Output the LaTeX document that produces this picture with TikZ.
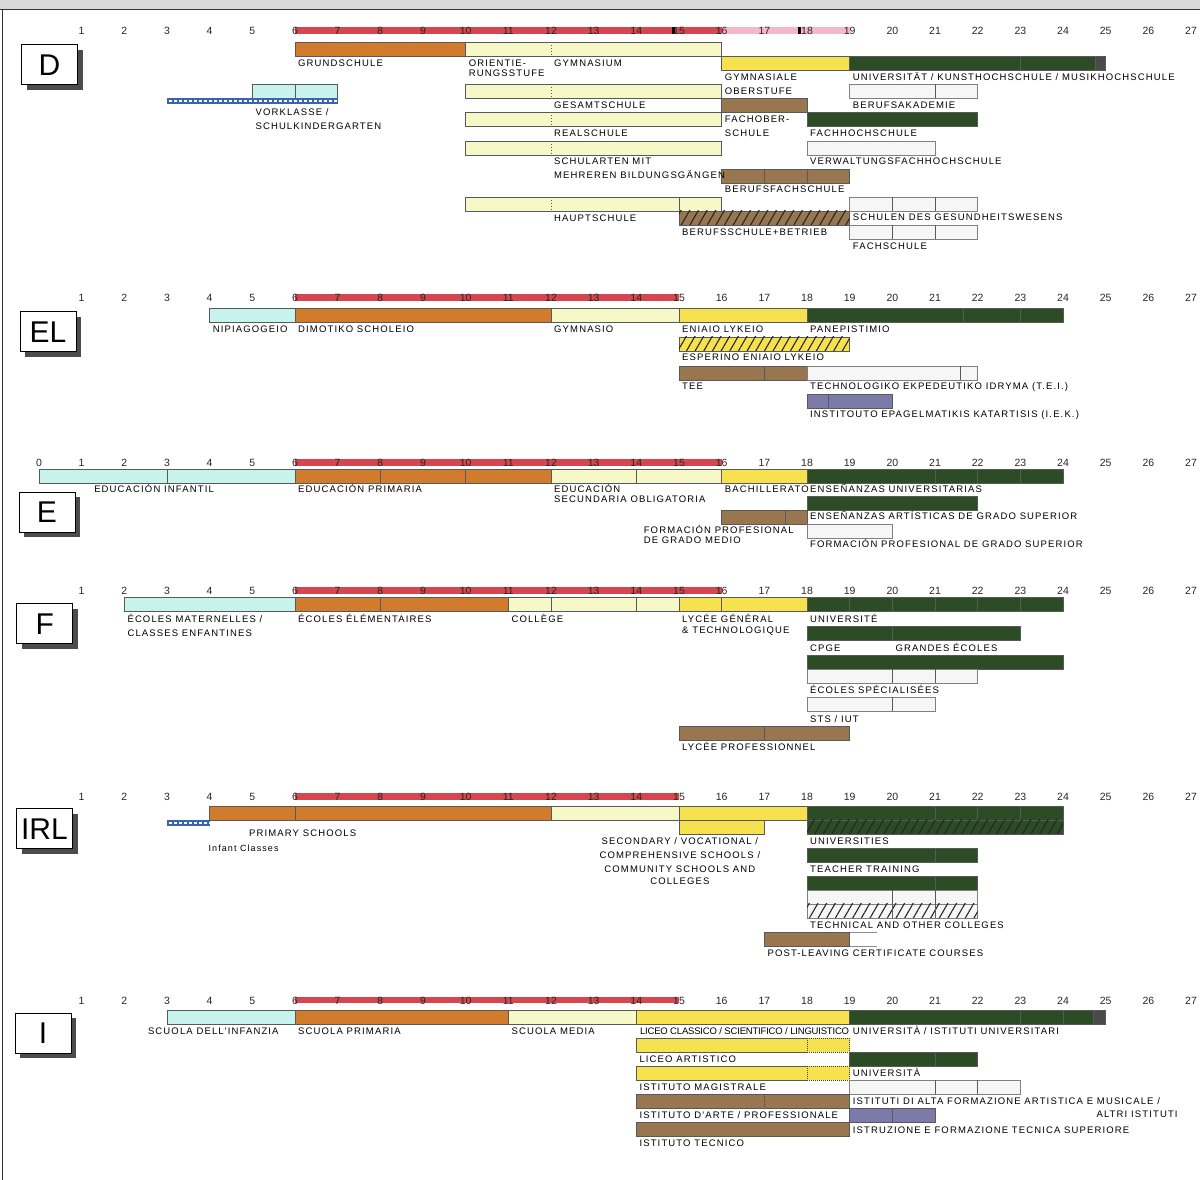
\documentclass[tikz,border=0pt]{standalone}
\usepackage{fontspec}
\setmainfont{Liberation Sans}
\newfontfamily\lblfont{Liberation Sans}[LetterSpace=12]
\newfontfamily\narrowfont{Liberation Sans}[LetterSpace=-2]
\usepackage{tikz}
\usetikzlibrary{patterns.meta,shadows}

\definecolor{redband}{RGB}{214,70,78}
\definecolor{pinkband}{RGB}{246,184,200}
\definecolor{orangeb}{RGB}{208,124,44}
\definecolor{paleb}{RGB}{246,248,200}
\definecolor{yellowb}{RGB}{246,226,78}
\definecolor{greenb}{RGB}{44,76,38}
\definecolor{brownb}{RGB}{152,118,80}
\definecolor{cyanb}{RGB}{200,242,236}
\definecolor{purpleb}{RGB}{124,122,168}
\definecolor{whiteb}{RGB}{246,246,246}
\definecolor{blueb}{RGB}{58,100,176}
\definecolor{endgray}{RGB}{74,74,74}

\begin{document}
\begin{tikzpicture}[x=42.667pt, y=-1pt]
        \tikzset{bar/.style={draw=black!65, line width=0.5pt}}
        \tikzset{orangebar/.style={bar, fill=orangeb}, palebar/.style={bar, fill=paleb},
          yellowbar/.style={bar, fill=yellowb}, greenbar/.style={bar, fill=greenb},
          brownbar/.style={bar, fill=brownb}, cyanbar/.style={bar, fill=cyanb},
          purplebar/.style={bar, fill=purpleb}, whitebar/.style={bar, draw=black!50, fill=whiteb},
          graybar/.style={bar, fill=endgray}}
        \tikzset{divline/.style={draw=black!65, line width=0.5pt},
          dashdiv/.style={divline, dash pattern=on 1.5pt off 1.5pt},
          dotbar/.style={draw=black!75, line width=0.7pt, dash pattern=on 1pt off 1pt},
          hatchfill/.style={pattern={Lines[angle=60, distance=7.5pt, line width=1.1pt]}, pattern color=black!85}}
        \tikzset{lbl/.style={anchor=base west, inner sep=0pt, xshift=3pt, font=\lblfont\fontsize{9.5}{10}\selectfont},
          lblc/.style={lbl, anchor=base, xshift=0pt},
          lblr/.style={lbl, anchor=base east, xshift=0pt},
          num/.style={inner sep=0pt, font=\fontsize{10.5}{11}\selectfont, text=black!85},
          cbox/.style={draw, line width=1pt, fill=white, minimum width=56pt, minimum height=40pt,
            inner sep=0pt, font=\fontsize{30}{30}\selectfont,
            drop shadow={shadow xshift=5pt, shadow yshift=-5pt, opacity=1, fill=black!70}}}
        \path[use as bounding box, fill=white] (-0.91406,0) rectangle (27.2109,1180);
        % frame and country boxes, in pixels
        \begin{scope}[x=1pt, xshift=-39pt]
          \fill[black!15] (0,0) rectangle (1200,9);
          \draw[black!80, line width=1pt] (0,10) -- (1200,10);
          \draw[black!80, line width=1pt] (2.5,10) -- (2.5,1180);
          \node[cbox] (cD) at (49.5,65) {D};
          \node[cbox] (cEL) at (48,332) {EL};
          \node[cbox] (cE) at (47,512.5) {E};
          \node[cbox] (cF) at (44.7,624) {F};
          \node[cbox] (cIRL) at (44.5,829) {IRL};
          \node[cbox] (cI) at (43,1033.5) {I};
        \end{scope}

        % D
        \fill[redband] (6,27) rectangle (16,34);
        \fill[pinkband] (16,27) rectangle (19,34);
        \fill[black] (14.84,27) rectangle (14.9,34);
        \fill[black] (17.8,27) rectangle (17.86,34);
        \foreach \a in {1,...,27} \node[num] (nD\a) at (\a,30.5) {\a};
        \draw[orangebar] (6,42) rectangle (10,56);
        \draw[palebar] (10,42) rectangle (16,56);
        \draw[yellowbar] (16,56) rectangle (19,70);
        \draw[greenbar] (19,56) rectangle (24.75,70);
        \draw[graybar] (24.75,56) rectangle (25,70);
        \draw[whitebar] (19,84) rectangle (22,98);
        \draw[palebar] (10,84) rectangle (16,98);
        \draw[cyanbar] (5,84) rectangle (7,98);
        \fill[blueb] (3,98) rectangle (7,104);
        \draw[white, line width=2.5pt, dash pattern=on 3pt off 2pt] (3.05,101) -- (7,101);
        \draw[brownbar] (16,98) rectangle (18,112);
        \draw[palebar] (10,112) rectangle (16,126);
        \draw[greenbar] (18,112) rectangle (22,126);
        \draw[palebar] (10,141) rectangle (16,155);
        \draw[whitebar] (18,141) rectangle (21,155);
        \draw[brownbar] (16,169) rectangle (19,183);
        \draw[palebar] (10,197) rectangle (16,211);
        \draw[whitebar] (19,197) rectangle (22,211);
        \draw[brownbar, postaction={hatchfill}] (15,211) rectangle (19,225);
        \draw[whitebar] (19,225) rectangle (22,239);
        \foreach \y in {42,84,112,141,197} \draw[dashdiv] (12,\y) -- (12,\y+14);
        \draw[divline] (21,84) -- (21,98);
        \draw[divline] (6,84) -- (6,98);
        \draw[divline] (23,56) -- (23,70);
        \foreach \a in {17,18} \draw[divline] (\a,169) -- (\a,183);
        \draw[divline] (15,197) -- (15,211);
        \foreach \a in {20,21} {
          \draw[divline] (\a,197) -- (\a,211);
          \draw[divline] (\a,225) -- (\a,239);
        }
        \node[lbl] (grundschule) at (6,66.5) {GRUNDSCHULE};
        \node[lbl] (orient1) at (10,66.5) {ORIENTIE-};
        \node[lbl] (orient2) at (10,76.5) {RUNGSSTUFE};
        \node[lbl] (gymnasium) at (12,66.5) {GYMNASIUM};
        \node[lbl] (gymober1) at (16,80.5) {GYMNASIALE};
        \node[lbl] (gymober2) at (16,94.5) {OBERSTUFE};
        \node[lbl] (uniD) at (19,80.5) {UNIVERSITÄT / KUNSTHOCHSCHULE / MUSIKHOCHSCHULE};
        \node[lbl] (berufsak) at (19,108.5) {BERUFSAKADEMIE};
        \node[lbl] (gesamt) at (12,108.5) {GESAMTSCHULE};
        \node[lbl] (vorkl1) at (5,115.5) {VORKLASSE /};
        \node[lbl] (vorkl2) at (5,129.5) {SCHULKINDERGARTEN};
        \node[lbl] (fos1) at (16,122.5) {FACHOBER-};
        \node[lbl] (fos2) at (16,136.5) {SCHULE};
        \node[lbl] (real) at (12,136.5) {REALSCHULE};
        \node[lbl] (fh) at (18,136.5) {FACHHOCHSCHULE};
        \node[lbl] (mehr1) at (12,164.5) {SCHULARTEN MIT};
        \node[lbl] (mehr2) at (12,178.5) {MEHREREN BILDUNGSGÄNGEN};
        \node[lbl] (verw) at (18,164.5) {VERWALTUNGSFACHHOCHSCHULE};
        \node[lbl] (bfs) at (16,192.5) {BERUFSFACHSCHULE};
        \node[lbl] (haupt) at (12,221.5) {HAUPTSCHULE};
        \node[lbl] (gesund) at (19,220.5) {SCHULEN DES GESUNDHEITSWESENS};
        \node[lbl] (betrieb) at (15,235.5) {BERUFSSCHULE+BETRIEB};
        \node[lbl] (fachsch) at (19,249.5) {FACHSCHULE};

        % EL
        \fill[redband] (6,294) rectangle (15,301);
        \foreach \a in {1,...,27} \node[num] (nEL\a) at (\a,297.5) {\a};
        \draw[cyanbar] (4,308) rectangle (6,322);
        \draw[orangebar] (6,308) rectangle (12,322);
        \draw[palebar] (12,308) rectangle (15,322);
        \draw[yellowbar] (15,308) rectangle (18,322);
        \draw[greenbar] (18,308) rectangle (24,322);
        \draw[yellowbar, postaction={hatchfill}] (15,337) rectangle (19,351);
        \draw[brownbar] (15,366) rectangle (18,380);
        \draw[whitebar] (18,366) rectangle (22,380);
        \draw[purplebar] (18,394) rectangle (20,408);
        \foreach \a in {21.67,23} \draw[divline] (\a,308) -- (\a,322);
        \draw[divline] (17,366) -- (17,380);
        \draw[divline] (21.6,366) -- (21.6,380);
        \draw[divline] (18.5,394) -- (18.5,408);
        \node[lbl] (nipi) at (4,332.5) {NIPIAGOGEIO};
        \node[lbl] (dimot) at (6,332.5) {DIMOTIKO SCHOLEIO};
        \node[lbl] (gymnasio) at (12,332.5) {GYMNASIO};
        \node[lbl] (eniaio) at (15,332.5) {ENIAIO LYKEIO};
        \node[lbl] (panep) at (18,332.5) {PANEPISTIMIO};
        \node[lbl] (esperino) at (15,360.5) {ESPERINO ENIAIO LYKEIO};
        \node[lbl] (tee) at (15,389.5) {TEE};
        \node[lbl] (tei) at (18,389.5) {TECHNOLOGIKO EKPEDEUTIKO IDRYMA (T.E.I.)};
        \node[lbl] (iek) at (18,417.5) {INSTITOUTO EPAGELMATIKIS KATARTISIS (I.E.K.)};

        % E
        \fill[redband] (6,459) rectangle (16,466);
        \foreach \a in {0,...,27} \node[num] (nE\a) at (\a,462.5) {\a};
        \draw[cyanbar] (0,469) rectangle (6,483);
        \draw[orangebar] (6,469) rectangle (12,483);
        \draw[palebar] (12,469) rectangle (16,483);
        \draw[yellowbar] (16,469) rectangle (18,483);
        \draw[greenbar] (18,469) rectangle (24,483);
        \draw[greenbar] (18,496) rectangle (22,510);
        \draw[brownbar] (16,510) rectangle (18,524);
        \draw[whitebar] (18,524) rectangle (20,538);
        \foreach \a in {3,8,10,14,21,22,23} \draw[divline] (\a,469) -- (\a,483);
        \draw[divline] (17.5,510) -- (17.5,524);
        \node[lbl] (infantil) at (1.22,492.5) {EDUCACIÓN INFANTIL};
        \node[lbl] (primaria) at (6,492.5) {EDUCACIÓN PRIMARIA};
        \node[lbl] (eso1) at (12,492.5) {EDUCACIÓN};
        \node[lbl] (eso2) at (12,502.5) {SECUNDARIA OBLIGATORIA};
        \node[lbl] (bach) at (16,492.5) {BACHILLERATO};
        \node[lbl] (ensuni) at (18,492.5) {ENSEÑANZAS UNIVERSITARIAS};
        \node[lbl] (ensart) at (18,519.5) {ENSEÑANZAS ARTÍSTICAS DE GRADO SUPERIOR};
        \node[lbl] (fpmedio1) at (14.1,533.5) {FORMACIÓN PROFESIONAL};
        \node[lbl] (fpmedio2) at (14.1,543.5) {DE GRADO MEDIO};
        \node[lbl] (fpsup) at (18,547.5) {FORMACIÓN PROFESIONAL DE GRADO SUPERIOR};

        % F
        \fill[redband] (6,587) rectangle (16,594);
        \foreach \a in {1,...,27} \node[num] (nF\a) at (\a,590.5) {\a};
        \draw[cyanbar] (2,597) rectangle (6,611);
        \draw[orangebar] (6,597) rectangle (11,611);
        \draw[palebar] (11,597) rectangle (15,611);
        \draw[yellowbar] (15,597) rectangle (18,611);
        \draw[greenbar] (18,597) rectangle (24,611);
        \draw[greenbar] (18,626) rectangle (23,640);
        \draw[greenbar] (18,655) rectangle (24,669);
        \draw[whitebar] (18,669) rectangle (22,683);
        \draw[whitebar] (18,697) rectangle (21,711);
        \draw[brownbar] (15,726) rectangle (19,740);
        \foreach \a in {8,12,14,16,19,20,21,22,23} \draw[divline] (\a,597) -- (\a,611);
        \draw[divline] (20,626) -- (20,640);
        \foreach \a in {20,21} \draw[divline] (\a,669) -- (\a,683);
        \draw[divline] (20,697) -- (20,711);
        \draw[divline] (17,726) -- (17,740);
        \node[lbl] (mater1) at (2,622.5) {ÉCOLES MATERNELLES /};
        \node[lbl] (mater2) at (2,636.5) {CLASSES ENFANTINES};
        \node[lbl] (elem) at (6,622.5) {ÉCOLES ÉLÉMENTAIRES};
        \node[lbl] (college) at (11,622.5) {COLLÈGE};
        \node[lbl] (lycee1) at (15,622.5) {LYCÉE GÉNÉRAL};
        \node[lbl] (lycee2) at (15,633.5) {\& TECHNOLOGIQUE};
        \node[lbl] (univF) at (18,622.5) {UNIVERSITÉ};
        \node[lbl] (cpge) at (18,651.5) {CPGE};
        \node[lbl] (grandes) at (20,651.5) {GRANDES ÉCOLES};
        \node[lbl] (specia) at (18,693.5) {ÉCOLES SPÉCIALISÉES};
        \node[lbl] (stsiut) at (18,722.5) {STS / IUT};
        \node[lbl] (lyceepro) at (15,750.5) {LYCÉE PROFESSIONNEL};

        % IRL
        \fill[redband] (6,793) rectangle (15,800);
        \foreach \a in {1,...,27} \node[num] (nIRL\a) at (\a,796.5) {\a};
        \fill[blueb] (3,820) rectangle (4,826);
        \draw[white, line width=2.5pt, dash pattern=on 3pt off 2pt] (3.05,823) -- (4,823);
        \draw[orangebar] (4,806) rectangle (12,820);
        \draw[palebar] (12,806) rectangle (15,820);
        \draw[yellowbar] (15,806) rectangle (18,820);
        \draw[yellowbar] (15,820) rectangle (17,834);
        \draw[greenbar] (18,806) rectangle (24,820);
        \draw[greenbar, postaction={hatchfill}] (18,820) rectangle (24,834);
        \draw[greenbar] (18,848) rectangle (22,862);
        \draw[greenbar] (18,876) rectangle (22,890);
        \draw[whitebar] (18,890) rectangle (22,904);
        \draw[whitebar, postaction={hatchfill}] (18,904) rectangle (22,918);
        \draw[brownbar] (17,932) rectangle (19,946);
        \draw[black!45] (19,932) -- (19.65,932) (19,946) -- (19.65,946);
        \draw[divline] (6,806) -- (6,820);
        \foreach \a in {21,22,23} \draw[divline] (\a,806) -- (\a,820);
        \foreach \y in {848,876} \draw[divline] (21,\y) -- (21,\y+14);
        \foreach \a in {20,21} \draw[divline] (\a,890) -- (\a,918);
        \node[lbl] (primIRL) at (4.85,836.5) {PRIMARY SCHOOLS};
        \node[lbl, font=\lblfont\fontsize{9}{10}\selectfont] (infant) at (3.9,851.5) {Infant Classes};
        \node[lblc] (second1) at (14.95,844.5) {SECONDARY / VOCATIONAL /};
        \node[lblc] (second2) at (14.95,858.5) {COMPREHENSIVE SCHOOLS /};
        \node[lblc] (second3) at (14.95,872.5) {COMMUNITY SCHOOLS AND};
        \node[lblc] (second4) at (14.95,884.5) {COLLEGES};
        \node[lbl] (univIRL) at (18,844.5) {UNIVERSITIES};
        \node[lbl] (teacher) at (18,872.5) {TEACHER TRAINING};
        \node[lbl] (techcoll) at (18,928.5) {TECHNICAL AND OTHER COLLEGES};
        \node[lbl] (plc) at (17,956.5) {POST-LEAVING CERTIFICATE COURSES};

        % I
        \fill[redband] (6,997) rectangle (15,1003);
        \foreach \a in {1,...,27} \node[num] (nI\a) at (\a,1000.5) {\a};
        \draw[cyanbar] (3,1010) rectangle (6,1024);
        \draw[orangebar] (6,1010) rectangle (11,1024);
        \draw[palebar] (11,1010) rectangle (14,1024);
        \draw[yellowbar] (14,1010) rectangle (19,1024);
        \draw[greenbar] (19,1010) rectangle (24.7,1024);
        \draw[graybar] (24.7,1010) rectangle (25,1024);
        \draw[yellowbar] (14,1038) rectangle (18,1052);
        \draw[yellowbar, dotbar] (18,1038) rectangle (19,1052);
        \draw[greenbar] (19,1052) rectangle (22,1066);
        \draw[yellowbar] (14,1066) rectangle (18,1080);
        \draw[yellowbar, dotbar] (18,1066) rectangle (19,1080);
        \draw[whitebar] (19,1080) rectangle (23,1094);
        \draw[brownbar] (14,1094) rectangle (19,1108);
        \draw[purplebar] (19,1108) rectangle (21,1122);
        \draw[brownbar] (14,1122) rectangle (19,1136);
        \foreach \a in {23,24} \draw[divline] (\a,1010) -- (\a,1024);
        \draw[divline] (21,1052) -- (21,1066);
        \foreach \a in {21,22} \draw[divline] (\a,1080) -- (\a,1094);
        \draw[dotbar] (17,1094) -- (17,1108);
        \draw[divline] (20,1108) -- (20,1122);
        \node[lbl] (infanzia) at (2.48,1034.5) {SCUOLA DELL'INFANZIA};
        \node[lbl] (primI) at (6,1034.5) {SCUOLA PRIMARIA};
        \node[lbl] (media) at (11,1034.5) {SCUOLA MEDIA};
        \node[lbl, font=\narrowfont\fontsize{9.5}{10}\selectfont, xshift=0.5pt] (liceo) at (14,1034.5) {LICEO CLASSICO / SCIENTIFICO / LINGUISTICO};
        \node[lbl] (univI) at (19,1034.5) {UNIVERSITÀ / ISTITUTI UNIVERSITARI};
        \node[lbl] (artist) at (14,1062.5) {LICEO ARTISTICO};
        \node[lbl] (univI2) at (19,1076.5) {UNIVERSITÀ};
        \node[lbl] (magist) at (14,1090.5) {ISTITUTO MAGISTRALE};
        \node[lbl] (afam1) at (19,1104.5) {ISTITUTI DI ALTA FORMAZIONE ARTISTICA E MUSICALE /};
        \node[lblr] (afam2) at (26.62,1117.5) {ALTRI ISTITUTI};
        \node[lbl] (arte) at (14,1118.5) {ISTITUTO D'ARTE / PROFESSIONALE};
        \node[lbl] (ifts) at (19,1133.5) {ISTRUZIONE E FORMAZIONE TECNICA SUPERIORE};
        \node[lbl] (tecnico) at (14,1146.5) {ISTITUTO TECNICO};
      \end{tikzpicture}
\end{document}
